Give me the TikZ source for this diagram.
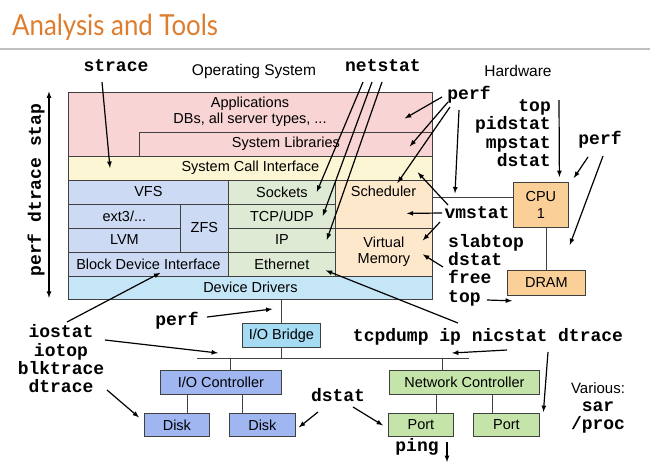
\documentclass[tikz,border=0pt]{standalone}
\usepackage{fontspec}
\setmainfont{Liberation Sans}
\setmonofont{Liberation Mono}
\newfontfamily\titlefont[FakeStretch=0.89]{Lato}
\usetikzlibrary{arrows,calc}
\definecolor{titleorange}{RGB}{222,125,45}
\definecolor{appred}{RGB}{248,212,212}
\definecolor{sciyellow}{RGB}{253,246,212}
\definecolor{fsblue}{RGB}{205,218,244}
\definecolor{netgreen}{RGB}{222,234,212}
\definecolor{kernorange}{RGB}{253,232,204}
\definecolor{drvcyan}{RGB}{196,230,246}
\definecolor{bridgecyan}{RGB}{165,220,243}
\definecolor{ioblue}{RGB}{160,182,240}
\definecolor{nicgreen}{RGB}{196,228,170}
\definecolor{hworange}{RGB}{250,208,152}

\begin{document}
\begin{tikzpicture}[x=1pt,y=-1pt]
	\tikzstyle{layer}=[draw=black!75,line width=0.8pt,anchor=north west,inner sep=0pt,font=\fontsize{14.5}{16.5}\selectfont]
	\tikzstyle{layertext}=[inner sep=0pt,font=\fontsize{14.5}{16.5}\selectfont]
	\tikzstyle{head}=[inner sep=1pt,font=\fontsize{15.5}{18}\selectfont]
	\tikzstyle{tool}=[inner sep=1pt,font=\fontsize{18}{18.3}\selectfont\ttfamily\bfseries]
	\tikzstyle{wire}=[draw=black!75,line width=0.9pt]
	\tikzstyle{pointer}=[->,>=latex,line width=1.2pt]

	\useasboundingbox (0,0) rectangle (650,472);
	\fill[white] (0,0) rectangle (650,472);
	\node[anchor=base west,inner sep=0pt,text=titleorange,font=\titlefont\fontsize{29}{30}\selectfont] (title) at (12,35) {Analysis and Tools};
	\draw[black!25,line width=1.2pt] (0,49) -- (650,49);

	\node[layer,fill=appred,minimum width=364,minimum height=64] (apps) at (68,91.5) {};
	\node[layertext,align=center] (appstext) at (250,111.5) {Applications\\DBs, all server types, ...};
	\node[layer,fill=appred,minimum width=293,minimum height=24] (libs) at (139,131.5) {System Libraries};
	\node[layer,fill=sciyellow,minimum width=364,minimum height=24] (sci) at (68,155.5) {System Call Interface};
	\node[layer,fill=fsblue,minimum width=160,minimum height=24] (vfs) at (68,179.5) {VFS};
	\node[layer,fill=fsblue,minimum width=112,minimum height=24] (ext) at (68,203.5) {ext3/...};
	\node[layer,fill=fsblue,minimum width=48,minimum height=48] (zfs) at (180,203.5) {ZFS};
	\node[layer,fill=fsblue,minimum width=112,minimum height=24] (lvm) at (68,227.5) {LVM};
	\node[layer,fill=fsblue,minimum width=160,minimum height=24] (bdi) at (68,251.5) {Block Device Interface};
	\node[layer,fill=netgreen,minimum width=107,minimum height=24] (sockets) at (228,179.5) {Sockets};
	\node[layer,fill=netgreen,minimum width=107,minimum height=24] (tcpudp) at (228,203.5) {TCP/UDP};
	\node[layer,fill=netgreen,minimum width=107,minimum height=24] (ip) at (228,227.5) {IP};
	\node[layer,fill=netgreen,minimum width=107,minimum height=24] (eth) at (228,251.5) {Ethernet};
	\node[layer,fill=kernorange,minimum width=97,minimum height=48] (sched) at (335,179.5) {};
	\node[layertext] (schedtext) at (383.5,191.5) {Scheduler};
	\node[layer,fill=kernorange,minimum width=97,minimum height=48,align=center] (vm) at (335,227.5) {Virtual\\Memory};
	\node[layer,fill=drvcyan,minimum width=364,minimum height=23.5] (dd) at (68,275.5) {Device Drivers};

	\node[layer,fill=hworange,minimum width=55,minimum height=45,align=center] (cpu) at (513,182) {CPU\\1};
	\node[layer,fill=hworange,minimum width=78,minimum height=25] (dram) at (507,270) {DRAM};
	\node[layer,fill=bridgecyan,minimum width=78,minimum height=24] (bridge) at (242,323) {I/O Bridge};
	\node[layer,fill=ioblue,minimum width=121,minimum height=24] (ioctl) at (160,370) {I/O Controller};
	\node[layer,fill=ioblue,minimum width=65,minimum height=23] (diska) at (144,413) {Disk};
	\node[layer,fill=ioblue,minimum width=66,minimum height=23] (diskb) at (229,413) {Disk};
	\node[layer,fill=nicgreen,minimum width=150,minimum height=24] (nic) at (389,370) {Network Controller};
	\node[layer,fill=nicgreen,minimum width=65,minimum height=23] (porta) at (388,413) {Port};
	\node[layer,fill=nicgreen,minimum width=66,minimum height=23] (portb) at (473,413) {Port};

	\coordinate (busw) at (197,358.5);
	\coordinate (buse) at (469,358.5);
	\coordinate (iotap) at (230,358.5);
	\coordinate (nictap) at (442.7,358.5);
	\coordinate (diskatap) at ($(diska.north)+(11,0)$);
	\coordinate (diskbtap) at ($(diskb.north)+(-19.5,0)$);
	\coordinate (portatap) at ($(porta.north)+(16,0)$);
	\coordinate (portbtap) at ($(portb.north)+(-14,0)$);
	\coordinate (cpuport) at ($(cpu.west)+(0,-7)$);
	\draw[wire] (busw) -- (buse);
	\draw[wire] (dd.south -| bridge.north) -- (bridge.north);
	\draw[wire] (bridge.south) -- (bridge.south |- busw);
	\draw[wire] (iotap) -- (iotap |- ioctl.north);
	\draw[wire] (nictap) -- (nictap |- nic.north);
	\draw[wire] (diskatap) -- (diskatap |- ioctl.south);
	\draw[wire] (diskbtap) -- (diskbtap |- ioctl.south);
	\draw[wire] (portatap) -- (portatap |- nic.south);
	\draw[wire] (portbtap) -- (portbtap |- nic.south);
	\draw[wire] (cpuport) -- (cpuport -| vm.east);
	\draw[wire] (dram.north) -- (dram.north |- cpu.south);

	\node[head] (ostitle) at (254,71) {Operating System};
	\node[head] (hwtitle) at (518,71) {Hardware};
	\node[tool,rotate=90] (perfstack) at (36,190) {perf dtrace stap};
	\node[tool] (strace) at (116,66) {strace};
	\node[tool] (netstat) at (383,66) {netstat};
	\node[tool] (perfos) at (469,95) {perf};
	\node[tool,align=right,anchor=east] (cputools) at (552,133) {top\\pidstat\\mpstat\\dstat};
	\node[tool] (perfhw) at (600,140) {perf};
	\node[tool] (vmstat) at (477,213) {vmstat};
	\node[tool,align=left,anchor=west] (memtools) at (447,270) {slabtop\\dstat\\free\\top};
	\node[tool] (perfio) at (177,321) {perf};
	\node[tool,align=center] (disktools) at (61,359) {iostat\\iotop\\blktrace\\dtrace};
	\node[tool] (nettools) at (488,337) {tcpdump ip nicstat dtrace};
	\node[tool] (dstatio) at (338,395) {dstat};
	\node[tool,align=center] (various) at (598,408) {{\rmfamily\mdseries\fontsize{15}{18}\selectfont Various:}\\sar\\/proc};
	\node[tool] (ping) at (417,447) {ping};

	\draw[pointer,<->] ($(apps.north west)+(-19,0)$) -- ($(dd.south west)+(-19,-2)$);
	\draw[pointer] ($(strace)+(-14,16)$) -- ($(sci.west)+(42,0)$);
	\draw[pointer] ($(netstat)+(-20,16)$) -- ($(sockets.east)+(-19,0)$);
	\draw[pointer] ($(netstat)+(-11,16)$) -- ($(tcpudp.east)+(-13,0)$);
	\draw[pointer] ($(netstat)+(-1,16)$) -- ($(ip.east)+(-9,0)$);
	\draw[pointer] ($(perfos)+(-27,2)$) -- ($(apps.east)+(-28,-5.5)$);
	\draw[pointer] ($(perfos)+(-21,7)$) -- ($(libs.east)+(-23,2.5)$);
	\draw[pointer] ($(perfos)+(-19,12)$) -- ($(sched.north)+(13.5,3.5)$);
	\draw[pointer] ($(perfos)+(-10,15)$) -- ($(cpuport)+(-58,-4.5)$);
	\draw[pointer] ($(vmstat)+(-29,-8)$) -- ($(sci.east)+(-15,4.5)$);
	\draw[pointer] ($(vmstat)+(-35,0)$) -- ($(sched.east)+(-26,9.5)$);
	\draw[pointer] ($(vmstat)+(-37,9)$) -- ($(vm.east)+(-10,-11.5)$);
	\draw[pointer] ($(memtools.west)+(-4,-3)$) -- ($(vm.east)+(-10,2.5)$);
	\draw[pointer] ($(memtools.west)+(40,30)$) -- ($(dram.south west)+(5,5)$);
	\draw[pointer] ($(cputools.east)+(7,-33)$) -- ($(cpu.north)+(18.5,-5)$);
	\draw[pointer] ($(perfhw)+(-12,17)$) -- ($(cpu.north east)+(5,-4)$);
	\draw[pointer] ($(perfhw)+(3,16)$) -- ($(dram.north east)+(-16,-25)$);
	\draw[pointer] ($(nettools)+(-30,-14)$) -- ($(eth.east)+(-10,6.5)$);
	\draw[pointer] ($(nettools)+(19,13)$) -- ($(buse)+(-17,-5.5)$);
	\draw[pointer] ($(nettools)+(60,15)$) -- ($(portb.north)+(37,-1)$);
	\draw[pointer] ($(ping)+(30,-5)$) -- ($(ping)+(30,15)$);
	\draw[pointer] ($(dstatio)+(15,12)$) -- ($(porta.west)+(-5,0.5)$);
	\draw[pointer] ($(dstatio)+(-20,17)$) -- ($(diskb.east)+(3,2.5)$);
	\draw[pointer] ($(perfio)+(30,-4)$) -- ($(bridge.north)+(-9,-14)$);
	\draw[pointer] ($(disktools)+(6,-37)$) -- ($(bdi.south)+(12,-3.5)$);
	\draw[pointer] ($(disktools)+(44,-19)$) -- ($(iotap)+(-12,-5.5)$);
	\draw[pointer] ($(disktools)+(46,31)$) -- ($(diska.west)+(-5,-7.5)$);
\end{tikzpicture}
\end{document}
